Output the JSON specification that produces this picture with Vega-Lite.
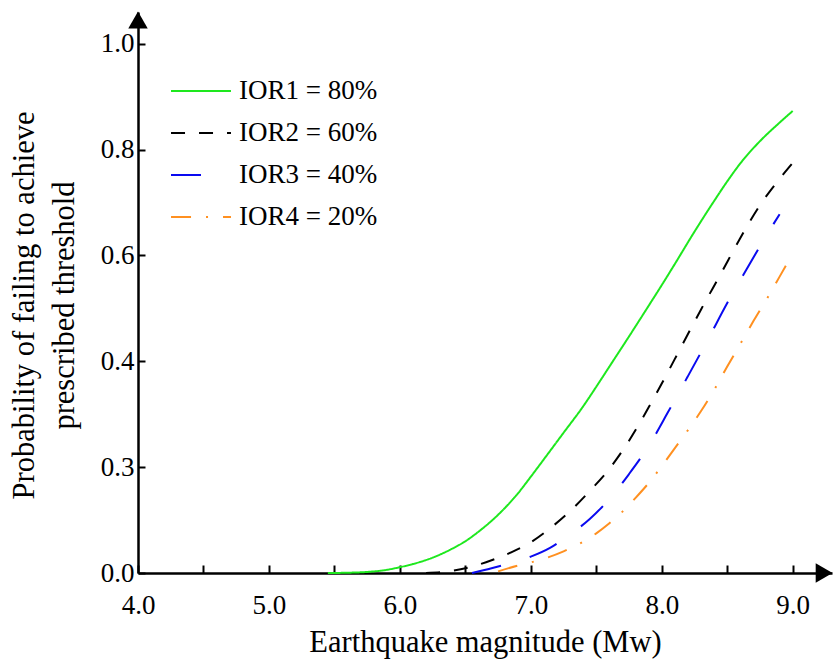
{
  "$schema": "https://vega.github.io/schema/vega-lite/v6.json",
  "autosize": "none",
  "width": 694,
  "height": 561,
  "padding": {"left": 138, "top": 12, "right": 3, "bottom": 89},
  "background": "white",
  "config": {
    "view": {"stroke": null},
    "font": "Liberation Serif",
    "axis": {"labelFont": "Liberation Serif", "titleFont": "Liberation Serif", "labelColor": "black", "titleColor": "black", "titleFontWeight": "normal", "domainColor": "black", "tickColor": "black", "grid": false}
  },
  "datasets": {
    "curves": [
      {"s": "IOR1 = 80%", "m": 5.45, "p": 0.0},
      {"s": "IOR1 = 80%", "m": 5.6, "p": 0.0005},
      {"s": "IOR1 = 80%", "m": 5.75, "p": 0.002},
      {"s": "IOR1 = 80%", "m": 5.9, "p": 0.006},
      {"s": "IOR1 = 80%", "m": 6.0, "p": 0.011},
      {"s": "IOR1 = 80%", "m": 6.1, "p": 0.017},
      {"s": "IOR1 = 80%", "m": 6.25, "p": 0.029},
      {"s": "IOR1 = 80%", "m": 6.4, "p": 0.046},
      {"s": "IOR1 = 80%", "m": 6.5, "p": 0.06},
      {"s": "IOR1 = 80%", "m": 6.6, "p": 0.078},
      {"s": "IOR1 = 80%", "m": 6.75, "p": 0.11},
      {"s": "IOR1 = 80%", "m": 6.9, "p": 0.15},
      {"s": "IOR1 = 80%", "m": 7.0, "p": 0.182},
      {"s": "IOR1 = 80%", "m": 7.1, "p": 0.215},
      {"s": "IOR1 = 80%", "m": 7.25, "p": 0.265},
      {"s": "IOR1 = 80%", "m": 7.4, "p": 0.315},
      {"s": "IOR1 = 80%", "m": 7.5, "p": 0.352},
      {"s": "IOR1 = 80%", "m": 7.6, "p": 0.39},
      {"s": "IOR1 = 80%", "m": 7.75, "p": 0.447},
      {"s": "IOR1 = 80%", "m": 7.9, "p": 0.505},
      {"s": "IOR1 = 80%", "m": 8.0, "p": 0.544},
      {"s": "IOR1 = 80%", "m": 8.1, "p": 0.584},
      {"s": "IOR1 = 80%", "m": 8.25, "p": 0.645},
      {"s": "IOR1 = 80%", "m": 8.4, "p": 0.703},
      {"s": "IOR1 = 80%", "m": 8.5, "p": 0.74},
      {"s": "IOR1 = 80%", "m": 8.6, "p": 0.774},
      {"s": "IOR1 = 80%", "m": 8.75, "p": 0.816},
      {"s": "IOR1 = 80%", "m": 8.9, "p": 0.851},
      {"s": "IOR1 = 80%", "m": 9.0, "p": 0.873},
      {"s": "IOR2 = 60%", "m": 6.2, "p": 0.0},
      {"s": "IOR2 = 60%", "m": 6.4, "p": 0.004},
      {"s": "IOR2 = 60%", "m": 6.55, "p": 0.012},
      {"s": "IOR2 = 60%", "m": 6.7, "p": 0.024},
      {"s": "IOR2 = 60%", "m": 6.85, "p": 0.039},
      {"s": "IOR2 = 60%", "m": 7.0, "p": 0.058},
      {"s": "IOR2 = 60%", "m": 7.15, "p": 0.085},
      {"s": "IOR2 = 60%", "m": 7.3, "p": 0.117},
      {"s": "IOR2 = 60%", "m": 7.45, "p": 0.155},
      {"s": "IOR2 = 60%", "m": 7.6, "p": 0.197},
      {"s": "IOR2 = 60%", "m": 7.75, "p": 0.25},
      {"s": "IOR2 = 60%", "m": 7.9, "p": 0.313},
      {"s": "IOR2 = 60%", "m": 8.0, "p": 0.358},
      {"s": "IOR2 = 60%", "m": 8.15, "p": 0.428},
      {"s": "IOR2 = 60%", "m": 8.3, "p": 0.498},
      {"s": "IOR2 = 60%", "m": 8.45, "p": 0.565},
      {"s": "IOR2 = 60%", "m": 8.6, "p": 0.633},
      {"s": "IOR2 = 60%", "m": 8.75, "p": 0.695},
      {"s": "IOR2 = 60%", "m": 8.9, "p": 0.745},
      {"s": "IOR2 = 60%", "m": 9.0, "p": 0.775},
      {"s": "IOR3 = 40%", "m": 6.55, "p": 0.0},
      {"s": "IOR3 = 40%", "m": 6.7, "p": 0.009},
      {"s": "IOR3 = 40%", "m": 6.85, "p": 0.019},
      {"s": "IOR3 = 40%", "m": 7.0, "p": 0.031},
      {"s": "IOR3 = 40%", "m": 7.15, "p": 0.048},
      {"s": "IOR3 = 40%", "m": 7.3, "p": 0.073},
      {"s": "IOR3 = 40%", "m": 7.45, "p": 0.102},
      {"s": "IOR3 = 40%", "m": 7.6, "p": 0.14},
      {"s": "IOR3 = 40%", "m": 7.75, "p": 0.187},
      {"s": "IOR3 = 40%", "m": 7.9, "p": 0.24},
      {"s": "IOR3 = 40%", "m": 8.05, "p": 0.305},
      {"s": "IOR3 = 40%", "m": 8.2, "p": 0.372},
      {"s": "IOR3 = 40%", "m": 8.35, "p": 0.44},
      {"s": "IOR3 = 40%", "m": 8.5, "p": 0.51},
      {"s": "IOR3 = 40%", "m": 8.65, "p": 0.575},
      {"s": "IOR3 = 40%", "m": 8.8, "p": 0.638},
      {"s": "IOR3 = 40%", "m": 8.9, "p": 0.678},
      {"s": "IOR4 = 20%", "m": 6.75, "p": 0.003},
      {"s": "IOR4 = 20%", "m": 6.9, "p": 0.014},
      {"s": "IOR4 = 20%", "m": 7.0, "p": 0.02},
      {"s": "IOR4 = 20%", "m": 7.1, "p": 0.027},
      {"s": "IOR4 = 20%", "m": 7.25, "p": 0.041},
      {"s": "IOR4 = 20%", "m": 7.4, "p": 0.059},
      {"s": "IOR4 = 20%", "m": 7.5, "p": 0.075},
      {"s": "IOR4 = 20%", "m": 7.6, "p": 0.094},
      {"s": "IOR4 = 20%", "m": 7.7, "p": 0.116},
      {"s": "IOR4 = 20%", "m": 7.8, "p": 0.142},
      {"s": "IOR4 = 20%", "m": 7.9, "p": 0.17},
      {"s": "IOR4 = 20%", "m": 8.0, "p": 0.202},
      {"s": "IOR4 = 20%", "m": 8.1, "p": 0.236},
      {"s": "IOR4 = 20%", "m": 8.2, "p": 0.27},
      {"s": "IOR4 = 20%", "m": 8.3, "p": 0.306},
      {"s": "IOR4 = 20%", "m": 8.4, "p": 0.346},
      {"s": "IOR4 = 20%", "m": 8.5, "p": 0.39},
      {"s": "IOR4 = 20%", "m": 8.6, "p": 0.433},
      {"s": "IOR4 = 20%", "m": 8.7, "p": 0.476},
      {"s": "IOR4 = 20%", "m": 8.8, "p": 0.517},
      {"s": "IOR4 = 20%", "m": 8.9, "p": 0.56},
      {"s": "IOR4 = 20%", "m": 9.0, "p": 0.603}
    ],
    "arrows": [
      {"m": 9.24, "p": 0, "shape": "triangle-right"},
      {"m": 4.0, "p": 1.045, "shape": "triangle-up"}
    ]
  },
  "layer": [
    {
      "data": {"name": "curves"},
      "mark": {"type": "line", "strokeWidth": 2, "interpolate": "monotone"},
      "encoding": {
        "x": {
          "field": "m", "type": "quantitative",
          "scale": {"domain": [4, 9.3], "nice": false, "zero": false},
          "axis": {
            "title": "Earthquake magnitude (Mw)",
            "titleFontSize": 30.5,
            "titlePadding": 9,
            "values": [4, 4.5, 5, 5.5, 6, 6.5, 7, 7.5, 8, 8.5, 9],
            "labelExpr": "datum.value % 1 == 0 ? format(datum.value, '.1f') : ''",
            "labelFontSize": 27,
            "labelPadding": 27,
            "tickSize": -8,
            "tickWidth": 2,
            "domainWidth": 2.5,
            "labelOverlap": false,
            "labelFlush": false
          }
        },
        "y": {
          "field": "p", "type": "quantitative",
          "scale": {"domain": [0, 1.06], "nice": false},
          "axis": {
            "title": ["Probability of failing to achieve", "prescribed threshold"],
            "titleFontSize": 30.5,
            "titleLineHeight": 40,
            "titlePadding": 21,
            "titleY": 293,
            "values": [0, 0.2, 0.4, 0.6, 0.8, 1.0],
            "labelExpr": "datum.value == 0.2 ? '0.3' : format(datum.value, '.1f')",
            "labelFontSize": 27,
            "labelPadding": 11,
            "tickSize": -7,
            "tickWidth": 2,
            "domainWidth": 2.5
          }
        },
        "color": {
          "field": "s", "type": "nominal",
          "scale": {"domain": ["IOR1 = 80%", "IOR2 = 60%", "IOR3 = 40%", "IOR4 = 20%"], "range": ["#1EE81E", "#000000", "#0A0AF0", "#FF9020"]},
          "legend": {
            "title": null,
            "orient": "none",
            "legendX": 34.5,
            "legendY": 50.5,
            "symbolType": "M-1.09,0H1.09",
            "symbolSize": 3025,
            "symbolStrokeWidth": 2,
            "symbolFillColor": "transparent",
            "labelFontSize": 27,
            "labelFont": "Liberation Serif",
            "labelColor": "black",
            "labelOffset": 9.5,
            "rowPadding": 0,
            "padding": 0
          }
        },
        "strokeDash": {
          "field": "s", "type": "nominal",
          "scale": {"domain": ["IOR1 = 80%", "IOR2 = 60%", "IOR3 = 40%", "IOR4 = 20%"], "range": [[1, 0], [14, 14], [30, 30], [20, 15, 2, 15]]},
          "legend": null
        }
      }
    },
    {
      "data": {"name": "arrows"},
      "mark": {"type": "point", "filled": true, "color": "black", "size": 380, "opacity": 1, "clip": false},
      "encoding": {
        "x": {"field": "m", "type": "quantitative"},
        "y": {"field": "p", "type": "quantitative"},
        "shape": {"field": "shape", "type": "nominal", "scale": {"domain": ["triangle-right", "triangle-up"], "range": ["triangle-right", "triangle-up"]}, "legend": null}
      }
    }
  ]
}
